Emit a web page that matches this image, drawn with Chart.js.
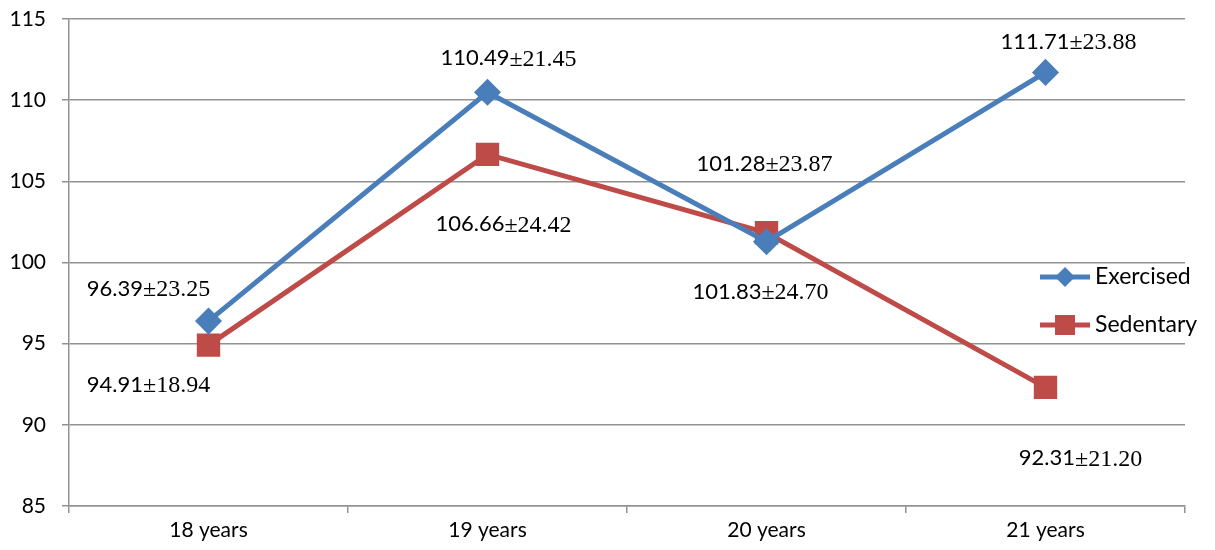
<!DOCTYPE html>
<html>
<head>
<meta charset="utf-8">
<script src="https://cdn.jsdelivr.net/npm/chart.js@4.4.1/dist/chart.umd.min.js"></script>
<style>
  html, body { margin: 0; padding: 0; background: #ffffff; }
  #wrap { width: 1215px; height: 550px; position: relative; }
</style>
</head>
<body>
<div id="wrap"><canvas id="c" width="1215" height="550"></canvas></div>
<script>
// Age groups and mean ± SD for each group
const categories = ['18 years', '19 years', '20 years', '21 years'];
const exercisedMean = [96.39, 110.49, 101.28, 111.71];
const exercisedSD = [23.25, 21.45, 23.87, 23.88];
const sedentaryMean = [94.91, 106.66, 101.83, 92.31];
const sedentarySD = [18.94, 24.42, 24.70, 21.20];
const yTicks = [85, 90, 95, 100, 105, 110, 115];

const BLUE = '#4A7EBB';
const RED = '#BE4B48';
const GRID = '#929292';
const SANS = 'Lato, "Open Sans", sans-serif';
const SERIF = '"Liberation Serif", "DejaVu Serif", serif';

// Draws "mean±sd" annotations next to each point: mean in sans, ±sd in serif
const meanSdLabels = {
  id: 'meanSdLabels',
  afterDatasetsDraw(chart, args, opts) {
    const ctx = chart.ctx;
    ctx.save();
    ctx.fillStyle = '#000';
    ctx.textBaseline = 'middle';
    chart.data.datasets.forEach((ds, di) => {
      const meta = chart.getDatasetMeta(di);
      const offsets = opts.offsets[di];
      meta.data.forEach((pt, i) => {
        const a = ds.data[i].toFixed(2);
        const b = '\u00B1' + ds.sd[i].toFixed(2);
        ctx.font = '22px ' + SANS;
        const wa = ctx.measureText(a).width;
        ctx.font = '24px ' + SERIF;
        const wb = ctx.measureText(b).width;
        const cx = pt.x + offsets[i][0];
        const cy = pt.y + offsets[i][1];
        const x0 = cx - (wa + wb) / 2;
        ctx.textAlign = 'left';
        ctx.font = '22px ' + SANS;
        ctx.fillText(a, x0, cy);
        ctx.font = '24px ' + SERIF;
        ctx.fillText(b, x0 + wa, cy + 1);
      });
    });
    ctx.restore();
  }
};

// Legend drawn over the right side of the plot
const sideLegend = {
  id: 'sideLegend',
  afterDraw(chart, args, opts) {
    const ctx = chart.ctx;
    ctx.save();
    chart.data.datasets.forEach((ds, di) => {
      const y = opts.y[di];
      const x0 = opts.x, x1 = opts.x + 50;
      ctx.strokeStyle = ds.borderColor;
      ctx.lineWidth = 5;
      ctx.beginPath();
      ctx.moveTo(x0, y);
      ctx.lineTo(x1, y);
      ctx.stroke();
      ctx.fillStyle = ds.backgroundColor;
      ctx.beginPath();
      const mx = (x0 + x1) / 2;
      if (ds.pointStyle === 'rectRot') {
        const r = 10;
        ctx.moveTo(mx - r, y);
        ctx.lineTo(mx, y - r);
        ctx.lineTo(mx + r, y);
        ctx.lineTo(mx, y + r);
        ctx.closePath();
      } else {
        ctx.rect(mx - 10, y - 10, 20, 20);
      }
      ctx.fill();
      ctx.fillStyle = '#000';
      ctx.font = '23px ' + SANS;
      ctx.textAlign = 'left';
      ctx.textBaseline = 'middle';
      ctx.fillText(ds.label, x1 + 5, y);
    });
    ctx.restore();
  }
};

new Chart(document.getElementById('c'), {
  type: 'line',
  data: {
    labels: categories,
    datasets: [
      {
        label: 'Exercised',
        data: exercisedMean,
        sd: exercisedSD,
        borderColor: BLUE,
        backgroundColor: BLUE,
        borderWidth: 5,
        pointStyle: 'rectRot',
        pointRadius: 10,
        pointHoverRadius: 10,
        tension: 0
      },
      {
        label: 'Sedentary',
        data: sedentaryMean,
        sd: sedentarySD,
        borderColor: RED,
        backgroundColor: RED,
        borderWidth: 5,
        pointStyle: 'rect',
        pointRadius: 13,
        pointHoverRadius: 13,
        tension: 0
      }
    ]
  },
  options: {
    responsive: false,
    animation: false,
    layout: { padding: { top: 19, right: 30, left: 0, bottom: 0 } },
    plugins: {
      legend: { display: false },
      tooltip: { enabled: false },
      meanSdLabels: {
        offsets: [
          [[-60, -32], [21, -34], [-2, -78], [23, -31]],
          [[-60, 40], [16, 70], [-6, 59], [35, 71]]
        ]
      },
      sideLegend: { x: 1040, y: [277, 325] }
    },
    scales: {
      x: {
        offset: true,
        grid: {
          offset: true,
          drawOnChartArea: false,
          drawTicks: true,
          tickLength: 7,
          color: GRID,
          lineWidth: 1.5
        },
        border: { display: true, color: GRID, width: 1.5 },
        ticks: {
          color: '#000',
          font: { family: SANS, size: 21 },
          padding: 5
        },
        afterFit(scale) {
          scale.height = 44;
          scale.paddingLeft = 0;
          scale.paddingRight = 0;
        }
      },
      y: {
        min: 85,
        max: 115,
        afterBuildTicks(scale) { scale.ticks = yTicks.map(v => ({ value: v })); },
        grid: {
          color: GRID,
          lineWidth: 1.5,
          drawTicks: true,
          tickLength: 7
        },
        border: { display: true, color: GRID, width: 1.5 },
        ticks: {
          color: '#000',
          font: { family: SANS, size: 21 },
          padding: 16
        },
        afterFit(scale) {
          scale.width = 69;
          scale.paddingTop = 0;
          scale.paddingBottom = 0;
        }
      }
    }
  },
  plugins: [meanSdLabels, sideLegend]
});
</script>
</body>
</html>
